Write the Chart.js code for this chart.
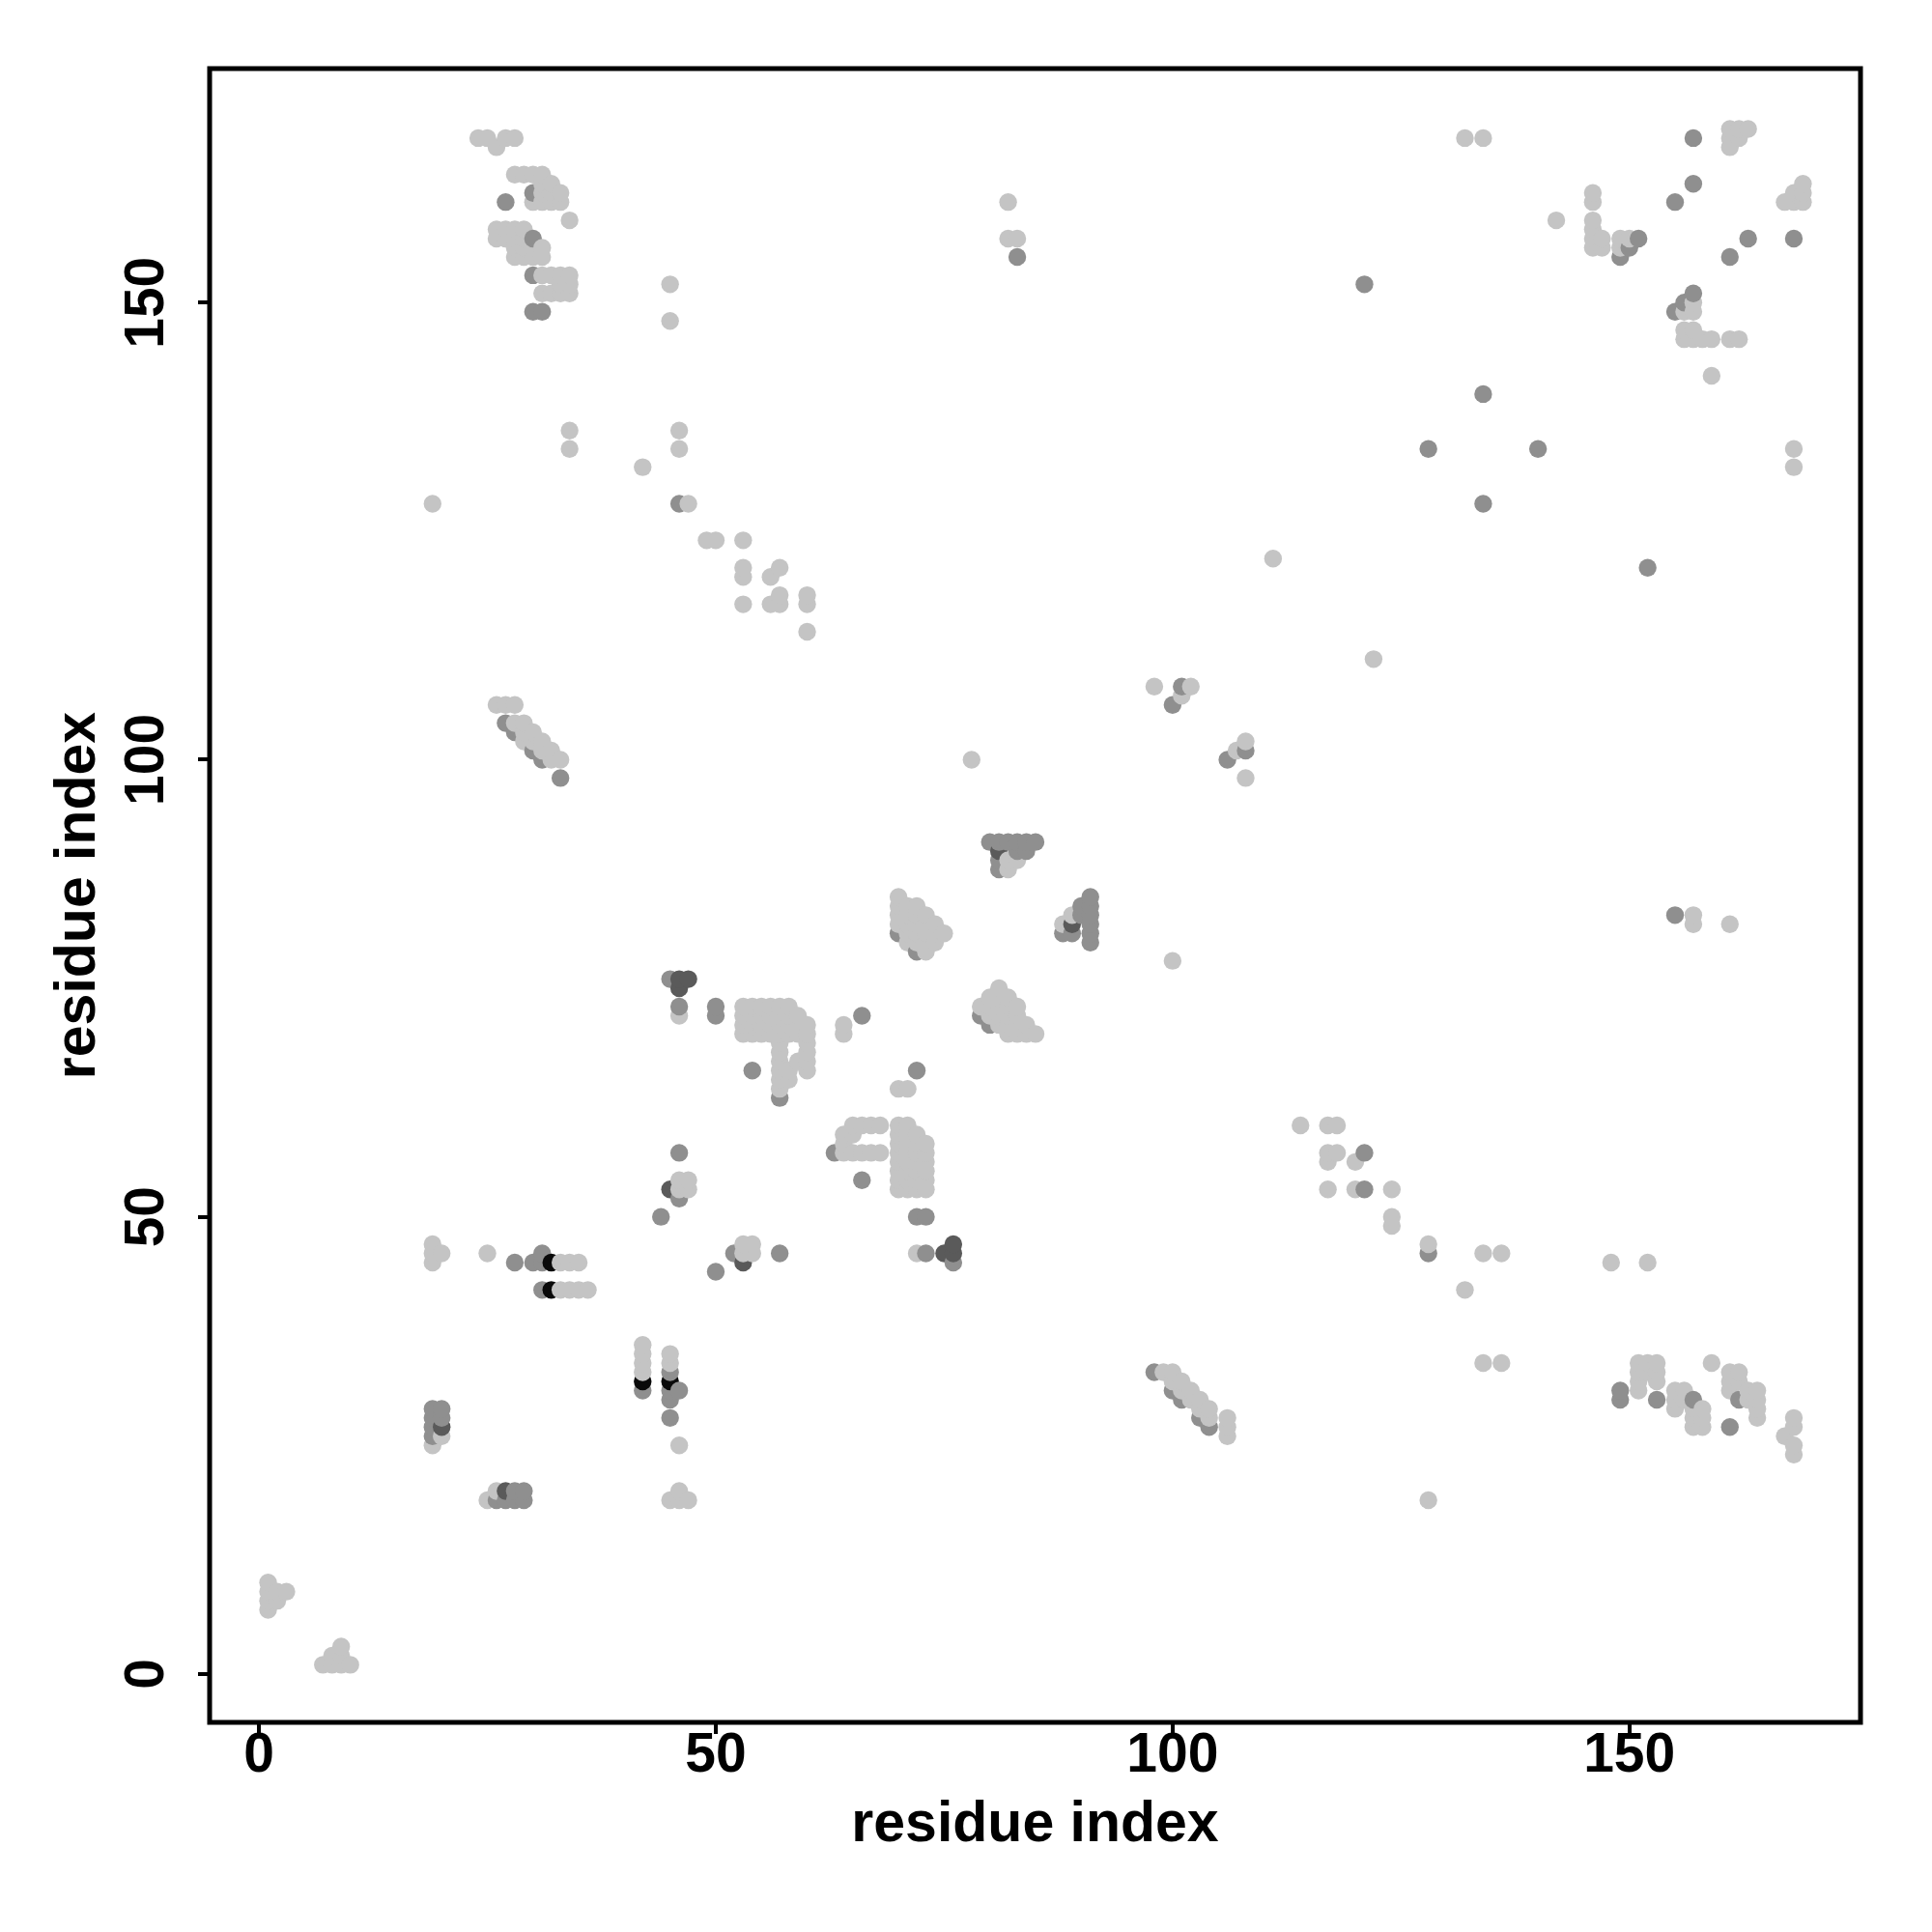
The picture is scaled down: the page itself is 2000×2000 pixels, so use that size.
<!DOCTYPE html>
<html>
<head>
<meta charset="utf-8">
<script src="https://cdn.jsdelivr.net/npm/chart.js@4.4.1/dist/chart.umd.min.js"></script>
<style>
  html, body { margin: 0; padding: 0; background: #fff; }
  #wrap { width: 2000px; height: 2000px; }
</style>
</head>
<body>
<div id="wrap"><canvas id="contactChart" width="2000" height="2000"></canvas></div>
<script>
// axes
const xTicks = [0, 50, 100, 150];
const yTicks = [0, 50, 100, 150];
const axisTitle = 'residue index';

// contacts [i, j], grouped by grey level
const lightPts = [
    [24,168],[25,168],[27,168],[28,168],[26,167],
    [28,164],[29,164],[30,164],[31,164],[31,163],[32,163],
    [31,162],[32,162],[33,162],[30,161],[31,161],[32,161],[33,161],[34,159],
    [26,158],[27,158],[28,158],[29,158],[26,157],[27,157],[28,157],[29,157],
    [28,156],[29,156],[30,156],[31,156],[28,155],[29,155],[30,155],[31,155],
    [31,153],[32,153],[33,153],[34,153],[33,152],[34,152],
    [31,151],[32,151],[33,151],[34,151],
    [45,152],[45,148],[34,136],[34,134],[46,136],[46,134],
    [42,132],[19,128],[47,128],[49,124],[50,124],[53,124],
    [53,121],[53,120],[53,117],[56,120],[57,121],[56,117],[57,117],[57,118],
    [60,118],[60,117],[60,114],
    [82,161],[82,157],[83,157],[111,122],
    [132,168],[134,168],
    [161,169],[162,169],[163,169],[161,168],[162,168],[161,167],
    [169,163],[168,162],[169,162],[167,161],[168,161],[169,161],
    [142,159],
    [146,162],[146,161],[146,159],[146,158],[146,157],[146,156],[147,157],[147,156],
    [149,157],[150,157],[149,156],
    [157,150],[157,149],[156,149],
    [156,147],[157,147],[156,146],[157,146],[158,146],[159,146],[161,146],[162,146],
    [159,142],[168,134],[168,132],
    [26,106],[27,106],[28,106],[28,104],[29,104],[29,103],[30,103],
    [29,102],[30,102],[31,102],[31,101],[32,101],[32,100],[33,100],
    [78,100],[98,108],[102,108],[101,107],[108,102],[107,101],[108,98],[122,111],
    [82,89],[82,88],[83,89],
    [70,85],[70,84],[71,84],[72,84],[70,83],[71,83],[72,83],[73,83],
    [70,82],[71,82],[72,82],[73,82],[74,82],
    [71,81],[72,81],[73,81],[74,81],[75,81],
    [71,80],[72,80],[73,80],[74,80],[73,79],
    [88,82],[89,83],[100,78],
    [157,83],[157,82],[161,82],
    [81,75],[80,74],[81,74],[82,74],
    [79,73],[80,73],[81,73],[82,73],[83,73],
    [80,72],[81,72],[82,72],[83,72],
    [81,71],[82,71],[83,71],[84,71],
    [82,70],[83,70],[84,70],[85,70],
    [53,73],[54,73],[55,73],[56,73],[57,73],[58,73],
    [53,72],[54,72],[55,72],[56,72],[57,72],[58,72],[59,72],
    [53,71],[54,71],[55,71],[56,71],[57,71],[58,71],[59,71],[60,71],
    [53,70],[54,70],[55,70],[56,70],[57,70],[58,70],[59,70],[60,70],
    [46,72],
    [57,69],[57,68],[57,67],[57,66],[57,65],[57,64],[58,66],[58,65],[59,67],
    [60,69],[60,68],[60,67],[60,66],
    [64,71],[64,70],[70,64],[71,64],
    [65,60],[66,60],[67,60],[68,60],[64,59],[65,59],[64,58],
    [64,57],[65,57],[66,57],[67,57],[68,57],
    [70,60],[71,60],[70,59],[71,59],[72,59],
    [70,58],[71,58],[72,58],[73,58],[70,57],[71,57],[72,57],[73,57],
    [70,56],[71,56],[72,56],[73,56],[70,55],[71,55],[72,55],[73,55],
    [70,54],[71,54],[72,54],[73,54],[70,53],[71,53],[72,53],[73,53],
    [114,60],[117,60],[118,60],[117,57],[118,57],[117,56],[120,56],
    [46,54],[47,54],[46,53],[47,53],
    [53,47],[54,47],[53,46],[54,46],
    [19,47],[19,46],[19,45],[20,46],[25,46],
    [33,45],[34,45],[35,45],[33,42],[34,42],[35,42],[36,42],
    [72,46],
    [117,53],[120,53],[124,53],[124,50],[124,49],
    [128,47],[134,46],[136,46],[148,45],[152,45],[132,42],
    [42,36],[42,35],[42,34],[42,33],[45,35],[45,34],
    [134,34],[136,34],
    [99,33],[100,33],[100,32],[101,32],[101,31],[102,31],[102,30],[103,30],
    [103,29],[104,29],[104,28],[106,28],[106,27],[106,26],
    [151,34],[152,34],[153,34],[151,33],[152,33],[153,33],[151,32],[153,32],[151,31],
    [155,31],[156,31],[155,30],[156,30],[155,29],
    [157,29],[158,29],[157,28],[158,28],[157,27],[158,27],
    [159,34],[161,33],[162,33],[161,32],[162,32],[161,31],[163,31],[164,31],
    [163,30],[164,30],[164,29],[164,28],
    [168,28],[168,27],[167,26],[168,25],[168,24],
    [19,25],[20,26],[46,25],
    [25,19],[26,20],[46,20],[45,19],[46,19],[47,19],[128,19],
    [1,10],[1,9],[2,9],[3,9],[1,8],[2,8],[1,7],
    [7,1],[8,1],[9,1],[10,1],[8,2],[9,2],[9,3]
];

const midPts = [
    [27,161],[30,162],[30,157],[30,153],[30,149],[31,149],
    [46,128],[83,155],
    [157,168],[157,163],[155,161],[163,157],[161,155],[168,157],
    [151,157],[150,156],[149,155],
    [121,152],[157,151],[156,150],[155,149],
    [134,140],[128,134],[140,134],[134,128],[152,121],
    [27,104],[28,103],[30,101],[31,100],[33,98],
    [101,108],[100,106],[108,101],[106,100],
    [80,91],[81,91],[82,91],[83,91],[84,91],[85,91],[83,90],[84,90],[81,89],[81,88],
    [70,81],[72,79],
    [91,85],[91,84],[91,83],[91,82],[91,81],[91,80],[90,84],[90,83],[88,81],[89,81],
    [79,72],[80,71],
    [45,76],[46,73],[50,73],[50,72],[66,72],[54,66],[57,63],[72,66],[63,57],[46,57],
    [66,54],[46,52],[44,50],[72,50],[73,50],[52,46],[50,44],[57,46],[73,46],[76,45],
    [121,57],[121,53],[128,46],
    [28,45],[30,45],[31,46],[31,45],[31,42],
    [42,31],[45,33],[45,31],[45,30],[45,28],[46,31],
    [19,29],[19,28],[19,27],[19,26],[20,29],[20,28],
    [26,19],[27,19],[28,19],[29,19],[28,20],[29,20],
    [98,33],[100,31],[101,30],[103,28],[104,27],
    [149,31],[149,30],[153,30],[157,30],[162,30],[161,27],
    [155,83]
];

const darkPts = [
    [46,76],[47,76],[46,75],[45,53],[53,45],[75,46],[76,47],[76,46],
    [20,27],[27,20],[81,90],[89,82]
];

const blackPts = [[32,45],[32,42],[42,32],[45,32]];

const shadeColors = {
    light: '#c4c4c4',
    mid: '#8f8f8f',
    dark: '#5a5a5a',
    black: '#0a0a0a'
};

// R draws the points in index order, so later (right) ones sit on top
const allPts = [
    ...lightPts.map(p => ({ x: p[0], y: p[1], c: shadeColors.light })),
    ...midPts.map(p => ({ x: p[0], y: p[1], c: shadeColors.mid })),
    ...darkPts.map(p => ({ x: p[0], y: p[1], c: shadeColors.dark })),
    ...blackPts.map(p => ({ x: p[0], y: p[1], c: shadeColors.black }))
].sort((a, b) => a.x - b.x || a.y - b.y);

const fontFamily = '"Liberation Sans", Arial, Helvetica, sans-serif';

// box around the plot + y tick labels turned like in R
const framePlugin = {
    id: 'frame',
    afterDraw(chart) {
        const { ctx, chartArea: a, scales } = chart;
        ctx.save();
        ctx.strokeStyle = '#000';
        ctx.lineWidth = 5;
        ctx.strokeRect(a.left, a.top, a.right - a.left, a.bottom - a.top);

        ctx.fillStyle = '#000';
        ctx.font = 'bold 57px ' + fontFamily;
        ctx.textAlign = 'center';
        ctx.textBaseline = 'alphabetic';
        yTicks.forEach(v => {
            const py = scales.y.getPixelForValue(v);
            ctx.save();
            ctx.translate(169, py);
            ctx.rotate(-Math.PI / 2);
            ctx.fillText(String(v), 0, 0);
            ctx.restore();
        });
        ctx.restore();
    }
};

const tickGrid = {
    display: true,
    drawOnChartArea: false,
    drawTicks: true,
    tickLength: 12,
    tickWidth: 4,
    tickColor: '#000',
    color: '#000',
    lineWidth: 4
};

const ctx = document.getElementById('contactChart').getContext('2d');
new Chart(ctx, {
    type: 'scatter',
    data: {
        datasets: [{
            data: allPts.map(p => ({ x: p.x, y: p.y })),
            pointBackgroundColor: allPts.map(p => p.c),
            pointBorderWidth: 0,
            pointRadius: 9.2,
            pointHoverRadius: 9.2,
            showLine: false
        }]
    },
    options: {
        responsive: false,
        animation: false,
        devicePixelRatio: 1,
        events: [],
        layout: { padding: { top: 71, right: 74, left: 0, bottom: 0 } },
        plugins: {
            legend: { display: false },
            tooltip: { enabled: false }
        },
        scales: {
            x: {
                type: 'linear',
                position: 'bottom',
                min: -5.4,
                max: 175.3,
                afterBuildTicks: s => { s.ticks = xTicks.map(v => ({ value: v })); },
                afterFit: s => { s.height = 217; },
                grid: tickGrid,
                border: { display: false },
                ticks: {
                    color: '#000',
                    padding: -5,
                    maxRotation: 0,
                    font: { family: fontFamily, size: 57, weight: 'bold', lineHeight: 1 },
                    callback: v => String(v)
                },
                title: {
                    display: true,
                    text: axisTitle,
                    color: '#000',
                    padding: { top: 0, bottom: 75 },
                    font: { family: fontFamily, size: 59, weight: 'bold' }
                }
            },
            y: {
                type: 'linear',
                position: 'left',
                min: -5.3,
                max: 175.6,
                afterBuildTicks: s => { s.ticks = yTicks.map(v => ({ value: v })); },
                afterFit: s => { s.width = 217; },
                grid: tickGrid,
                border: { display: false },
                ticks: { display: false },
                title: {
                    display: true,
                    text: axisTitle,
                    color: '#000',
                    padding: { top: 46, bottom: 0 },
                    font: { family: fontFamily, size: 59, weight: 'bold' }
                }
            }
        }
    },
    plugins: [framePlugin]
});
</script>
</body>
</html>
